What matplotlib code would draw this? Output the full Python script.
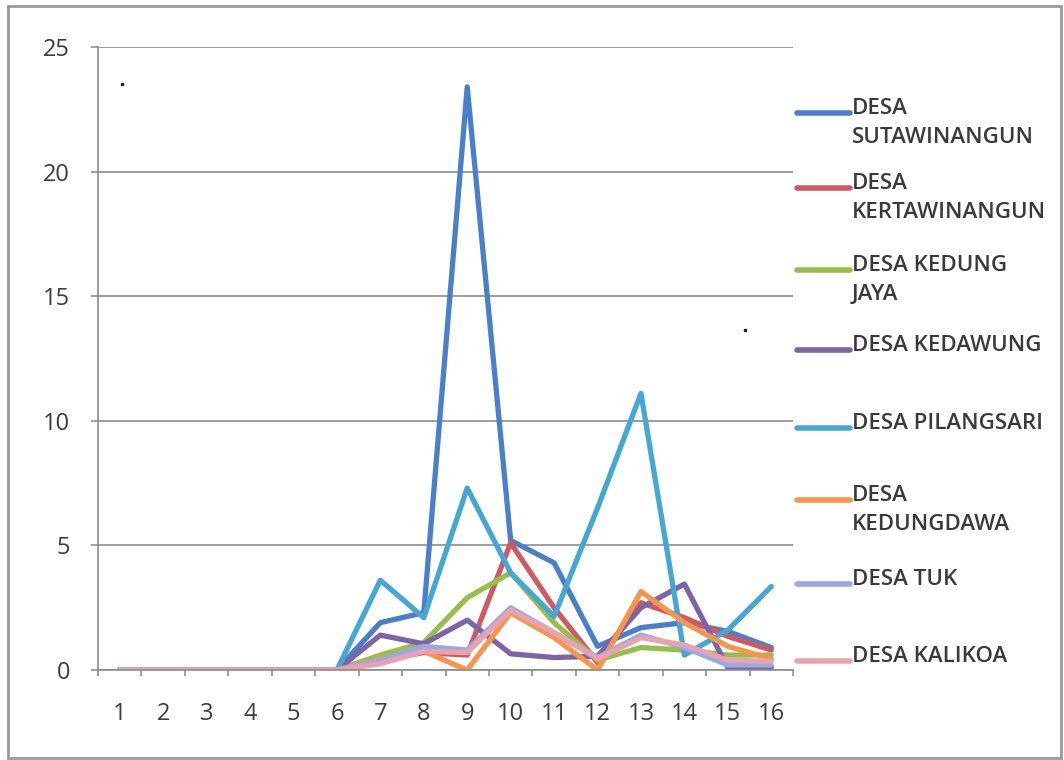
import matplotlib.pyplot as plt
from matplotlib.lines import Line2D
from matplotlib.patches import Rectangle

plt.rcParams['font.family'] = ['Open Sans', 'DejaVu Sans']

# data
days = list(range(1, 17))
sutawinangun  = [0, 0, 0, 0, 0, 0, 1.9, 2.3, 23.4, 5.2, 4.3, 0.95, 1.7, 1.9, 1.55, 0.9]
kertawinangun = [0, 0, 0, 0, 0, 0, 0.4, 0.7, 0.6, 5.1, 2.5, 0.3, 2.7, 2.1, 1.35, 0.8]
kedung_jaya   = [0, 0, 0, 0, 0, 0, 0.6, 1.1, 2.9, 3.9, 1.9, 0.4, 0.9, 0.8, 0.6, 0.6]
kedawung      = [0, 0, 0, 0, 0, 0, 1.4, 1.05, 2.0, 0.65, 0.5, 0.55, 2.5, 3.45, 0.1, 0.1]
pilangsari    = [0, 0, 0, 0, 0, 0, 3.6, 2.1, 7.3, 3.9, 2.15, 6.5, 11.1, 0.6, 1.6, 3.35]
kedungdawa    = [0, 0, 0, 0, 0, 0, 0.45, 0.75, 0.0, 2.3, 1.3, 0.0, 3.15, 1.9, 0.95, 0.45]
tuk           = [0, 0, 0, 0, 0, 0, 0.4, 0.95, 0.8, 2.5, 1.5, 0.5, 1.4, 0.9, 0.2, 0.2]
kalikoa       = [0, 0, 0, 0, 0, 0, 0.25, 0.75, 0.7, 2.4, 1.5, 0.45, 1.3, 1.0, 0.4, 0.35]

names = ['DESA\nSUTAWINANGUN', 'DESA\nKERTAWINANGUN', 'DESA KEDUNG\nJAYA', 'DESA KEDAWUNG',
         'DESA PILANGSARI', 'DESA\nKEDUNGDAWA', 'DESA TUK', 'DESA KALIKOA']
series = [sutawinangun, kertawinangun, kedung_jaya, kedawung,
          pilangsari, kedungdawa, tuk, kalikoa]
colors = ['#4a7fcc', '#cf5a63', '#97bf4a', '#7d63a8', '#45a8d4', '#f7944e', '#98aae6', '#eaa2b0']

W, H = 1064, 760
fig = plt.figure(figsize=(W / 100, H / 100), dpi=100)
ax = fig.add_axes([98 / W, 90 / H, 695 / W, 623 / H])

for vals, c in zip(series, colors):
    ax.plot(days, vals, color=c, lw=3.8, solid_capstyle='round', solid_joinstyle='round')

ax.set_xlim(0.5, 16.5)
ax.set_ylim(0, 25)
ax.set_yticks([0, 5, 10, 15, 20, 25])
ax.set_xticks(days)
ax.set_xticks([i + 0.5 for i in range(0, 17)], minor=True)
ax.tick_params(axis='x', which='major', length=0, pad=23, labelsize=17, labelcolor='#3c3c3c')
ax.tick_params(axis='x', which='minor', length=4.5, width=1.1, color='#888888', direction='out')
ax.tick_params(axis='y', length=5, width=1.1, color='#888888', pad=15, labelsize=17, labelcolor='#3c3c3c')
ax.yaxis.grid(True, color='#8c8c8c', lw=1.2)
ax.set_axisbelow(True)
for s in ['top', 'right']:
    ax.spines[s].set_visible(False)
ax.spines['left'].set_color('#8c8c8c')
ax.spines['bottom'].set_color('#8c8c8c')
ax.spines['left'].set_linewidth(1.2)
ax.spines['bottom'].set_linewidth(1.2)

# legend drawn by hand, handle lined up with the first text line
leg_y = [113, 188, 270, 350, 428, 500, 584, 661]
for name, c, y in zip(names, colors, leg_y):
    yf = 1 - y / H
    fig.add_artist(Line2D([797 / W, 850 / W], [yf, yf], color=c, lw=4, solid_capstyle='round'))
    fig.text(852 / W, yf + 15 / H, name, fontsize=16, fontweight='semibold', color='#3a3a3a',
             va='top', ha='left', linespacing=1.5)

# outer chart frame and scan specks
fig.add_artist(Rectangle((8 / W, 2 / H), 1053 / W, 752 / H, fill=False, ec='#9a9a9a', lw=2))
fig.add_artist(Line2D([122 / W], [1 - 84 / H], marker='s', ms=2, color='#222222'))
fig.add_artist(Line2D([745 / W], [1 - 330 / H], marker='s', ms=2, color='#222222'))

fig.savefig('out.png', dpi=100)
